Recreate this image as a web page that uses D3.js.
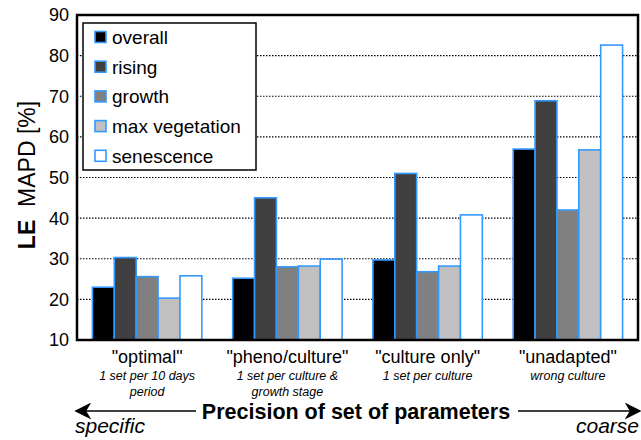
<!DOCTYPE html>
<html>
<head>
<meta charset="utf-8">
<script src="https://cdn.jsdelivr.net/npm/d3@7"></script>
<style>
body { margin: 0; background: #fff; font-family: "Liberation Sans", Arial, Helvetica, sans-serif; }
svg text { font-family: "Liberation Sans", Arial, Helvetica, sans-serif; }
</style>
</head>
<body>
<div id="chart"></div>
<script>
var categories = ['"optimal"', '"pheno/culture"', '"culture only"', '"unadapted"'];
var subLabels = [["1 set per 10 days", "period"], ["1 set per culture &", "growth stage"], ["1 set per culture"], ["wrong culture"]];
var seriesNames = ["overall", "rising", "growth", "max vegetation", "senescence"];
var seriesColors = ["#000000", "#404040", "#808080", "#c0c0c0", "#ffffff"];
var overall = [23.0, 25.2, 29.7, 57.0];
var rising = [30.3, 45.0, 51.0, 68.9];
var growth = [25.6, 28.0, 26.8, 42.0];
var maxVegetation = [20.3, 28.2, 28.2, 56.8];
var senescence = [25.8, 29.9, 40.8, 82.6];
var yTicks = [10, 20, 30, 40, 50, 60, 70, 80, 90];

var seriesValues = [overall, rising, growth, maxVegetation, senescence];

var margin = {top: 15, right: 3, bottom: 100, left: 77};
var W = 641, H = 440;
var width = W - margin.left - margin.right;
var height = H - margin.top - margin.bottom;

var svg = d3.select("#chart").append("svg")
    .attr("width", W)
    .attr("height", H);

var g = svg.append("g")
    .attr("transform", "translate(" + margin.left + "," + margin.top + ")");

var x0 = d3.scaleBand().domain(categories).range([0, width]).paddingInner(0.22).paddingOuter(0.11);
var x1 = d3.scaleBand().domain(seriesNames).range([0, x0.bandwidth()]);
var y = d3.scaleLinear().domain([10, 90]).range([height, 0]);

// dotted grid
g.selectAll(".grid")
    .data(yTicks.slice(1, -1))
    .enter().append("line")
    .attr("x1", 0).attr("x2", width)
    .attr("y1", function(d) { return y(d); })
    .attr("y2", function(d) { return y(d); })
    .attr("stroke", "#000")
    .attr("stroke-width", 1.2)
    .attr("stroke-dasharray", "1.5,1.5");

// bars
var groups = g.selectAll(".grp")
    .data(categories)
    .enter().append("g")
    .attr("transform", function(d) { return "translate(" + x0(d) + ",0)"; });

groups.selectAll("rect")
    .data(function(d, i) {
        return seriesNames.map(function(s, j) { return {s: s, j: j, v: seriesValues[j][i]}; });
    })
    .enter().append("rect")
    .attr("x", function(d) { return x1(d.s); })
    .attr("width", x1.bandwidth())
    .attr("y", function(d) { return y(d.v); })
    .attr("height", function(d) { return height - y(d.v); })
    .attr("fill", function(d) { return seriesColors[d.j]; })
    .attr("stroke", "#3399ff")
    .attr("stroke-width", 1.6);

// frame
g.append("rect")
    .attr("x", 0).attr("y", 0)
    .attr("width", width).attr("height", height)
    .attr("fill", "none")
    .attr("stroke", "#000")
    .attr("stroke-width", 2.5);

// y axis labels
g.selectAll(".ytick")
    .data(yTicks)
    .enter().append("text")
    .attr("x", -8)
    .attr("y", function(d) { return y(d); })
    .attr("dy", "0.36em")
    .attr("text-anchor", "end")
    .style("font-size", "18px")
    .text(function(d) { return d; });

var yl = svg.append("text")
    .attr("transform", "translate(35,175) rotate(-90)")
    .attr("text-anchor", "middle")
    .style("font-size", "23px");
yl.append("tspan").style("font-weight", "bold").text("LE");
yl.append("tspan").text("\u00a0 MAPD [%]");

// category labels
g.selectAll(".cat")
    .data(categories)
    .enter().append("text")
    .attr("x", function(d) { return x0(d) + x0.bandwidth() / 2; })
    .attr("y", height + 23)
    .attr("text-anchor", "middle")
    .style("font-size", "18px")
    .text(function(d) { return d; });

categories.forEach(function(c, i) {
    subLabels[i].forEach(function(t, k) {
        g.append("text")
            .attr("x", x0(c) + x0.bandwidth() / 2)
            .attr("y", height + 40 + k * 16)
            .attr("text-anchor", "middle")
            .style("font-size", "12.5px")
            .style("font-style", "italic")
            .text(t);
    });
});

// legend
var legend = svg.append("g").attr("transform", "translate(83,23)");
legend.append("rect")
    .attr("width", 173).attr("height", 147)
    .attr("fill", "#fff")
    .attr("stroke", "#000")
    .attr("stroke-width", 1.5);
seriesNames.forEach(function(s, i) {
    var row = legend.append("g").attr("transform", "translate(12," + (14 + i * 29.7) + ")");
    row.append("rect")
        .attr("width", 11).attr("height", 11)
        .attr("y", -5.5)
        .attr("fill", seriesColors[i])
        .attr("stroke", "#3399ff")
        .attr("stroke-width", 1.6);
    row.append("text")
        .attr("x", 17)
        .attr("dy", "0.36em")
        .style("font-size", "19px")
        .text(s);
});

// bottom arrow + title
var ay = 411;
svg.append("defs").append("marker")
    .attr("id", "head")
    .attr("viewBox", "0 0 10 10")
    .attr("refX", 9).attr("refY", 5)
    .attr("markerWidth", 26).attr("markerHeight", 17)
    .attr("markerUnits", "userSpaceOnUse")
    .attr("orient", "auto")
    .append("path")
    .attr("d", "M0,0 L10,5 L0,10 L3,5 Z")
    .attr("fill", "#000");

svg.append("line")
    .attr("x1", 196).attr("x2", 76)
    .attr("y1", ay).attr("y2", ay)
    .attr("stroke", "#000").attr("stroke-width", 1.5)
    .attr("marker-end", "url(#head)");
svg.append("line")
    .attr("x1", 518).attr("x2", 640)
    .attr("y1", ay).attr("y2", ay)
    .attr("stroke", "#000").attr("stroke-width", 1.5)
    .attr("marker-end", "url(#head)");

svg.append("text")
    .attr("x", 356).attr("y", ay)
    .attr("dy", "0.36em")
    .attr("text-anchor", "middle")
    .style("font-size", "21.5px")
    .style("font-weight", "bold")
    .text("Precision of set of parameters");

svg.append("text")
    .attr("x", 75).attr("y", 433)
    .style("font-size", "21px")
    .style("font-style", "italic")
    .text("specific");
svg.append("text")
    .attr("x", 639).attr("y", 433)
    .attr("text-anchor", "end")
    .style("font-size", "21px")
    .style("font-style", "italic")
    .text("coarse");
</script>
</body>
</html>
